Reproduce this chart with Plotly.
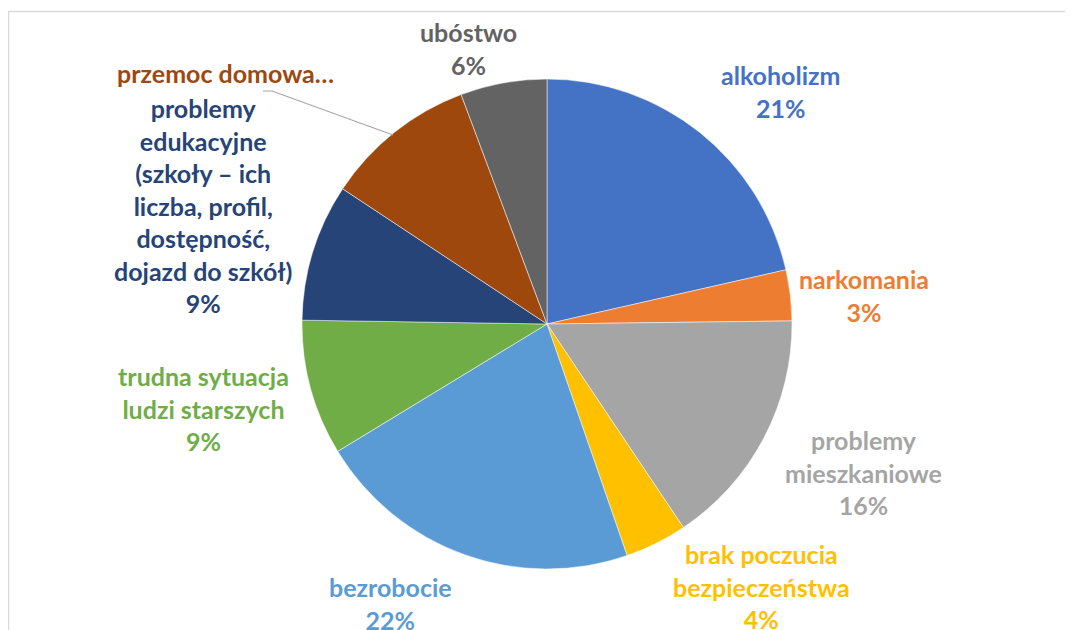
import plotly.graph_objects as go

W, H = 1073, 630
OFF = 8  # page body margin shifts the figure by 8px

labels = ["alkoholizm", "narkomania", "problemy mieszkaniowe",
          "brak poczucia bezpieczeństwa", "bezrobocie",
          "trudna sytuacja ludzi starszych",
          "problemy edukacyjne (szkoły – ich liczba, profil, dostępność, dojazd do szkół)",
          "przemoc domowa", "ubóstwo"]
values = [21.45, 3.35, 15.8, 4.1, 21.6, 8.95, 9.05, 10.0, 5.7]
colors = ["#4472C4", "#ED7D31", "#A5A5A5", "#FFC000", "#5B9BD5",
          "#70AD47", "#264478", "#9E480E", "#636363"]

label_lines = [
    ["alkoholizm"],
    ["narkomania"],
    ["problemy", "mieszkaniowe"],
    ["brak poczucia", "bezpieczeństwa"],
    ["bezrobocie"],
    ["trudna sytuacja", "ludzi starszych"],
    ["problemy", "edukacyjne", "(szkoły – ich", "liczba, profil,", "dostępność,", "dojazd do szkół)"],
    ["przemoc domowa…"],
    ["ubóstwo"],
]
show_pct = [True, True, True, True, True, True, True, False, True]
label_pos = [(780, 92), (864, 296), (863, 472), (761, 586), (390, 603),
             (203, 408), (203, 205), (225, 73), (468, 49)]

def px(x, y):
    return (x - OFF) / W, 1 - (y - OFF) / H

x0, y0 = px(302, 569)
x1, y1 = px(792, 79)
fig = go.Figure(go.Pie(
    labels=labels, values=values, sort=False, direction="clockwise",
    rotation=0, marker=dict(colors=colors, line=dict(color="white", width=0.5)),
    textinfo="none", hoverinfo="label+percent", showlegend=False,
    domain=dict(x=[x0, x1], y=[y0, y1]),
))

total = sum(values)
annotations = []
for lines, v, c, sp, (x, y) in zip(label_lines, values, colors, show_pct, label_pos):
    parts = list(lines)
    if sp:
        parts.append(f"{round(100 * v / total)}%")
    txt = "<br>".join(f"<b>{p}</b>" for p in parts)
    ax, ay = px(x, y)
    annotations.append(dict(
        x=ax, y=ay, xref="paper", yref="paper", text=txt, showarrow=False,
        xanchor="center", yanchor="middle", align="center",
        font=dict(family="Lato, Carlito, sans-serif", size=25, color=c)))

bx0, by1 = px(8.5, 11.5)
shapes = [
    dict(type="rect", xref="paper", yref="paper",
         x0=bx0, y0=-0.05, x1=1.05, y1=by1,
         line=dict(color="#D9D9D9", width=1.5), fillcolor="rgba(0,0,0,0)", layer="below"),
    dict(type="path", xref="paper", yref="paper",
         path="M {0},{1} L {2},{3} L {4},{5}".format(*px(263, 91), *px(272, 91), *px(393, 135)),
         line=dict(color="#A6A6A6", width=1.2)),
]

fig.update_layout(
    width=W, height=H, margin=dict(l=0, r=0, t=0, b=0),
    paper_bgcolor="white", plot_bgcolor="white",
    annotations=annotations, shapes=shapes,
)

fig.write_html("out.html")
